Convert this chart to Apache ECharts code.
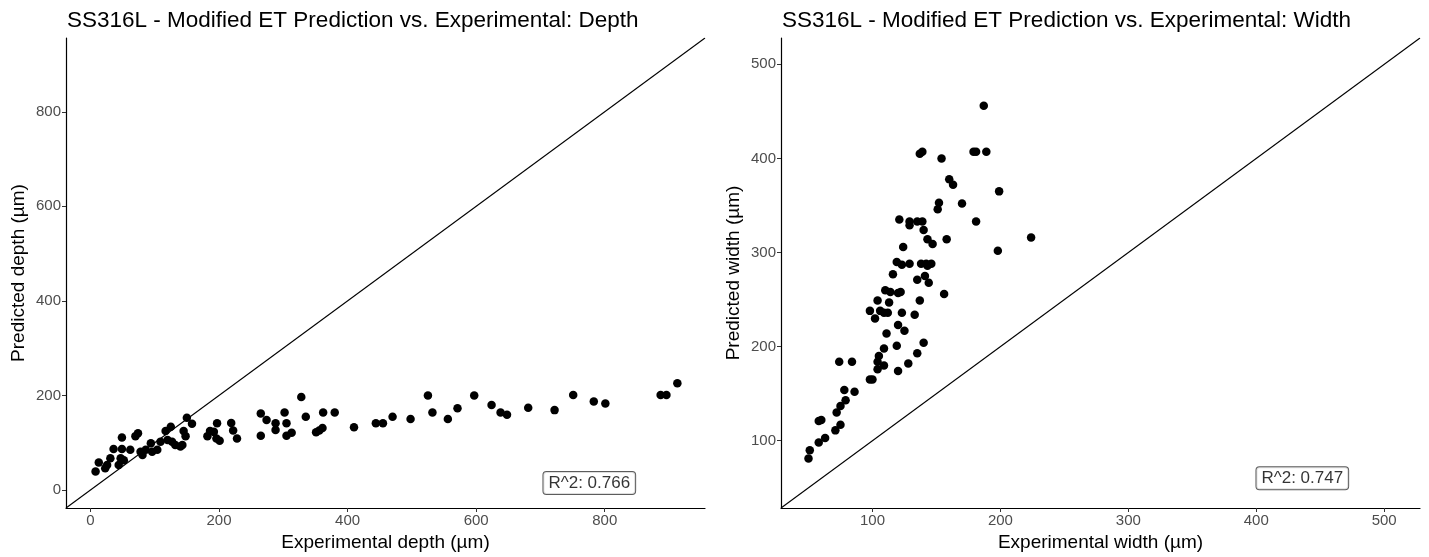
<!DOCTYPE html>
<html>
<head>
<meta charset="utf-8">
<script src="https://cdn.jsdelivr.net/npm/echarts@6/dist/echarts.min.js"></script>
<style>
html,body{margin:0;padding:0;background:#fff;}
#chart{width:1429px;height:557px;}
</style>
</head>
<body>
<div id="chart"></div>
<script>
// ---- Data ----
const titles = [
  'SS316L - Modified ET Prediction vs. Experimental: Depth',
  'SS316L - Modified ET Prediction vs. Experimental: Width'
];
const xTitles = ['Experimental depth (µm)', 'Experimental width (µm)'];
const yTitles = ['Predicted depth (µm)', 'Predicted width (µm)'];

const depthExp = [8,13,23,26,31,36,44,47,52,49,49,62,70,74,78,81,86,94,96,104,109,117,125,120,127,132,140,148,150,158,145,143,182,186,192,197,196,201,219,222,228,265,274,265,288,288,302,305,305,313,328,335,351,356,361,362,380,410,444,455,470,498,525,532,556,571,597,624,638,648,681,722,751,783,801,887,896,913];
const depthPred = [39,58,46,53,67,87,53,67,63,87,111,85,114,120,81,74,85,99,81,85,102,125,134,106,102,95,92,114,153,140,125,95,114,125,123,141,109,104,142,126,109,162,148,115,141,127,164,141,115,121,197,155,122,126,131,164,164,133,141,141,155,150,200,164,150,173,200,180,164,159,174,169,201,187,183,201,201,226];

const widthExp = [187,137,139,154,179,181,189,160,163,199,152,151,170,121,129,129,135,139,140,143,147,158,181,224,124,198,119,123,129,138,142,146,143,116,135,141,144,110,114,120,122,156,104,113,137,98,106,109,112,123,133,102,120,125,111,140,119,109,135,105,104,74,84,109,104,120,128,98,100,86,78,79,75,72,75,71,58,60,63,58,51,50];
const widthPred = [456,405,407,400,407,407,407,378,372,365,353,346,352,335,333,329,333,333,324,314,309,314,333,316,306,302,290,287,288,288,288,288,286,277,271,275,268,260,258,257,258,256,249,247,249,238,238,236,236,236,234,230,223,217,214,204,201,198,193,190,184,184,184,180,176,174,182,165,165,152,154,143,137,130,117,111,121,122,103,98,90,81];

const depthTicks = [0,200,400,600,800];
const widthTicks = [100,200,300,400,500];
const depthRange = [-38, 956];
const widthRange = [28.5, 528];

const r2Texts = ['R^2: 0.766', 'R^2: 0.747'];
const r2Pos = [[776, 15], [436, 60]];

// ---- Build ----
const zip = (a, b) => a.map((v, i) => [v, b[i]]);
const FONT = '"Liberation Sans", Arial, sans-serif';

function makeAxis(idx, range, ticks, name, isX) {
  return {
    gridIndex: idx,
    type: 'value',
    min: range[0],
    max: range[1],
    name: name,
    nameLocation: 'middle',
    nameGap: isX ? 24 : 38,
    nameTextStyle: {fontSize: 19, color: '#000', fontFamily: FONT},
    axisLine: {show: true, onZero: false, lineStyle: {color: '#000', width: 1.2}},
    axisTick: {show: true, length: 4, customValues: ticks, lineStyle: {color: '#333', width: 1}},
    axisLabel: {customValues: ticks, color: '#4d4d4d', fontSize: 15, margin: 5, fontFamily: FONT},
    splitLine: {show: false}
  };
}

const ranges = [depthRange, widthRange];
const option = {
  animation: false,
  backgroundColor: '#fff',
  textStyle: {fontFamily: FONT},
  title: titles.map((t, i) => ({
    text: t,
    left: i === 0 ? 62 : 777,
    top: 4,
    textStyle: {fontSize: 22.5, fontWeight: 'normal', color: '#000', fontFamily: FONT}
  })),
  grid: [
    {left: 66, top: 38, width: 639, height: 470},
    {left: 781, top: 38, width: 639, height: 470}
  ],
  xAxis: [
    makeAxis(0, depthRange, depthTicks, xTitles[0], true),
    makeAxis(1, widthRange, widthTicks, xTitles[1], true)
  ],
  yAxis: [
    makeAxis(0, depthRange, depthTicks, yTitles[0], false),
    makeAxis(1, widthRange, widthTicks, yTitles[1], false)
  ],
  series: []
};

[zip(depthExp, depthPred), zip(widthExp, widthPred)].forEach((data, i) => {
  option.series.push({
    type: 'line',
    xAxisIndex: i, yAxisIndex: i,
    data: [[ranges[i][0], ranges[i][0]], [ranges[i][1], ranges[i][1]]],
    symbol: 'none',
    lineStyle: {color: '#000', width: 1.1},
    silent: true
  });
  option.series.push({
    type: 'scatter',
    xAxisIndex: i, yAxisIndex: i,
    data: data,
    symbolSize: 8.5,
    itemStyle: {color: '#000', opacity: 1},
    silent: true
  });
  option.series.push({
    type: 'scatter',
    xAxisIndex: i, yAxisIndex: i,
    data: [r2Pos[i]],
    symbolSize: 0,
    silent: true,
    label: {
      show: true,
      position: 'inside',
      formatter: r2Texts[i],
      color: '#000',
      fontSize: 17,
      fontFamily: FONT,
      backgroundColor: '#fff',
      borderColor: '#333',
      borderWidth: 1,
      borderRadius: 3,
      padding: [3, 5, 2, 5]
    }
  });
});

const chart = echarts.init(document.getElementById('chart'), null, {renderer: 'canvas'});
chart.setOption(option);
</script>
</body>
</html>
